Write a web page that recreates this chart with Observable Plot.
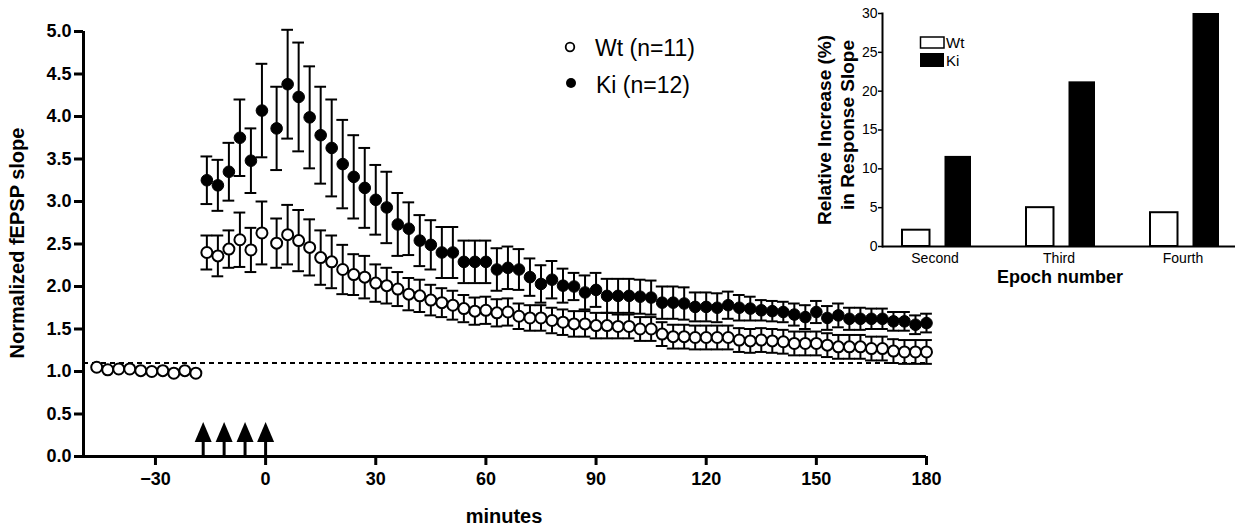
<!DOCTYPE html>
<html>
<head>
<meta charset="utf-8">
<script src="https://cdn.jsdelivr.net/npm/d3@7"></script>
<script src="https://cdn.jsdelivr.net/npm/@observablehq/plot@0.6"></script>
<style>
  html, body { margin: 0; padding: 0; background: #fff; }
  #wrap { position: relative; width: 1246px; height: 531px; overflow: hidden; }
  #wrap > svg { position: absolute; }
</style>
</head>
<body>
<div id="wrap"></div>
<script>
// ---------- data ----------
const baselineTimes = [-46, -43, -40, -37, -34, -31, -28, -25, -22, -19];
const wtBaseline = [1.05, 1.02, 1.03, 1.03, 1.01, 1.00, 1.01, 0.98, 1.01, 0.98];

const postTimes = [-16, -13, -10, -7, -4, -1,
  3, 6, 9, 12, 15, 18, 21, 24, 27, 30,
  33, 36, 39, 42, 45, 48, 51, 54, 57, 60,
  63, 66, 69, 72, 75, 78, 81, 84, 87, 90,
  93, 96, 99, 102, 105, 108, 111, 114, 117, 120,
  123, 126, 129, 132, 135, 138, 141, 144, 147, 150,
  153, 156, 159, 162, 165, 168, 171, 174, 177, 180];

const kiMean = [3.25, 3.19, 3.35, 3.75, 3.48, 4.07,
  3.86, 4.38, 4.23, 3.99, 3.78, 3.63, 3.44, 3.29, 3.16, 3.02,
  2.93, 2.73, 2.68, 2.54, 2.49, 2.40, 2.40, 2.29, 2.29, 2.29,
  2.20, 2.22, 2.20, 2.11, 2.03, 2.08, 2.01, 2.00, 1.93, 1.96,
  1.89, 1.89, 1.89, 1.88, 1.87, 1.81, 1.81, 1.80, 1.76, 1.76,
  1.75, 1.78, 1.75, 1.74, 1.72, 1.71, 1.70, 1.67, 1.64, 1.70,
  1.63, 1.66, 1.62, 1.62, 1.62, 1.62, 1.59, 1.59, 1.55, 1.57];
const kiSem = [0.28, 0.30, 0.34, 0.45, 0.38, 0.55,
  0.49, 0.64, 0.64, 0.60, 0.57, 0.57, 0.52, 0.49, 0.47, 0.41,
  0.42, 0.37, 0.31, 0.30, 0.29, 0.30, 0.30, 0.25, 0.25, 0.25,
  0.25, 0.25, 0.24, 0.22, 0.22, 0.22, 0.20, 0.16, 0.20, 0.20,
  0.20, 0.20, 0.20, 0.20, 0.20, 0.19, 0.19, 0.19, 0.17, 0.17,
  0.17, 0.16, 0.15, 0.14, 0.12, 0.12, 0.12, 0.13, 0.14, 0.13,
  0.14, 0.14, 0.13, 0.13, 0.12, 0.12, 0.11, 0.11, 0.11, 0.11];

const wtMean = [2.40, 2.36, 2.44, 2.55, 2.43, 2.63,
  2.51, 2.61, 2.54, 2.46, 2.34, 2.29, 2.20, 2.14, 2.11, 2.04,
  2.01, 1.97, 1.91, 1.89, 1.84, 1.81, 1.78, 1.74, 1.71, 1.72,
  1.69, 1.70, 1.65, 1.63, 1.63, 1.60, 1.58, 1.56, 1.56, 1.54,
  1.54, 1.53, 1.53, 1.50, 1.50, 1.44, 1.41, 1.41, 1.40, 1.40,
  1.40, 1.40, 1.37, 1.36, 1.37, 1.36, 1.35, 1.33, 1.33, 1.33,
  1.31, 1.29, 1.29, 1.29, 1.27, 1.27, 1.24, 1.23, 1.23, 1.23];
const wtSem = [0.20, 0.24, 0.22, 0.32, 0.26, 0.37,
  0.29, 0.35, 0.36, 0.33, 0.32, 0.31, 0.29, 0.24, 0.25, 0.22,
  0.21, 0.20, 0.19, 0.19, 0.18, 0.17, 0.17, 0.16, 0.16, 0.16,
  0.16, 0.16, 0.15, 0.15, 0.15, 0.15, 0.15, 0.15, 0.15, 0.15,
  0.15, 0.14, 0.14, 0.14, 0.14, 0.14, 0.14, 0.14, 0.14, 0.14,
  0.14, 0.14, 0.14, 0.14, 0.14, 0.14, 0.14, 0.14, 0.14, 0.14,
  0.14, 0.14, 0.14, 0.14, 0.14, 0.14, 0.14, 0.14, 0.14, 0.14];

const arrowTimes = [-17, -11.3, -5.6, 0];
const refLevel = [1.1];
const xTicks = [-30, 0, 30, 60, 90, 120, 150, 180];
const yTicks = [0, 0.5, 1, 1.5, 2, 2.5, 3, 3.5, 4, 4.5, 5];

// inset
const epochs = ["Second", "Third", "Fourth"];
const wtIncrease = [2.1, 5.0, 4.35];
const kiIncrease = [11.6, 21.2, 30.0];
const insetTicks = [0, 5, 10, 15, 20, 25, 30];

// ---------- build tables ----------
const FONT = '"Liberation Sans", Arial, Helvetica, sans-serif';
const base = baselineTimes.map((t, i) => ({t, v: wtBaseline[i]}));
const ki = postTimes.map((t, i) => ({t, v: kiMean[i], e: kiSem[i]}));
const wt = postTimes.map((t, i) => ({t, v: wtMean[i], e: wtSem[i]}));
const arrows = arrowTimes.map(t => ({t}));
const xDomain = [-49.6, 180];
const capHalf = 1.6;

const arrowHead = {
  draw(ctx) {
    ctx.moveTo(0, -20);
    ctx.lineTo(8.5, 0);
    ctx.lineTo(-8.5, 0);
    ctx.closePath();
  }
};

function errMarks(data) {
  return [
    Plot.ruleX(data, {x: "t", y1: d => d.v - d.e, y2: d => d.v + d.e, stroke: "#000", strokeWidth: 2}),
    Plot.ruleY(data, {y: d => d.v + d.e, x1: d => d.t - capHalf, x2: d => d.t + capHalf, stroke: "#000", strokeWidth: 2}),
    Plot.ruleY(data, {y: d => d.v - d.e, x1: d => d.t - capHalf, x2: d => d.t + capHalf, stroke: "#000", strokeWidth: 2})
  ];
}

const main = Plot.plot({
  width: 1246, height: 531,
  marginLeft: 83, marginRight: 320, marginTop: 31, marginBottom: 75,
  x: {domain: xDomain},
  y: {domain: [0, 5]},
  style: {background: "transparent", fontFamily: FONT, color: "#000", overflow: "visible"},
  marks: [
    Plot.ruleY(refLevel, {stroke: "#000", strokeWidth: 2.2, strokeDasharray: "5,4"}),
    Plot.axisY({ticks: yTicks, tickFormat: d3.format(".1f"), tickSize: 9, tickPadding: 3, strokeWidth: 3, fontSize: 18, fontWeight: "bold", label: null}),
    Plot.axisX({ticks: xTicks, tickSize: 9, tickPadding: 7, strokeWidth: 3, fontSize: 18, fontWeight: "bold", label: null}),
    Plot.ruleY([0], {stroke: "#000", strokeWidth: 3}),
    Plot.ruleX([xDomain[0]], {stroke: "#000", strokeWidth: 3}),
    Plot.ruleX(arrows, {x: "t", y1: 0, y2: 0.19, stroke: "#000", strokeWidth: 3}),
    Plot.dot(arrows, {x: "t", y: 0.17, symbol: arrowHead, fill: "#000", stroke: "none"}),
    ...errMarks(ki),
    ...errMarks(wt),
    Plot.dot(ki, {x: "t", y: "v", r: 5.8, fill: "#000", stroke: "#000", strokeWidth: 1}),
    Plot.dot(wt, {x: "t", y: "v", r: 5.5, fill: "#fff", stroke: "#000", strokeWidth: 2}),
    Plot.dot(base, {x: "t", y: "v", r: 5.5, fill: "#fff", stroke: "#000", strokeWidth: 2})
  ]
});
main.style.left = "0px"; main.style.top = "0px";

const bars = epochs.map((g, i) => ({g, wt: wtIncrease[i], ki: kiIncrease[i]}));
const inset = Plot.plot({
  width: 446, height: 300,
  marginLeft: 82, marginRight: 11, marginTop: 13, marginBottom: 54,
  x: {domain: epochs, paddingInner: 0.3, paddingOuter: 0.062},
  y: {domain: [0, 30]},
  style: {background: "transparent", fontFamily: FONT, color: "#000", overflow: "visible"},
  marks: [
    Plot.barY(bars, {x: "g", y: "wt", fill: "#fff", stroke: "#000", strokeWidth: 2, insetLeft: 11, insetRight: 48.5}),
    Plot.barY(bars, {x: "g", y: "ki", fill: "#000", insetLeft: 53.5, insetRight: 7}),
    Plot.axisY({ticks: insetTicks, tickSize: 4, tickPadding: 1, fontSize: 14, label: null, strokeWidth: 1.5}),
    Plot.axisX({tickSize: 0, tickPadding: 7, fontSize: 14, label: null}),
    Plot.ruleY([0], {stroke: "#000", strokeWidth: 2}),
    Plot.frame({anchor: "left", stroke: "#000", strokeWidth: 2})
  ]
});
inset.style.left = "800px"; inset.style.top = "0px";

const wrap = document.getElementById("wrap");
wrap.appendChild(main);
wrap.appendChild(inset);

// ---------- titles and legends ----------
const NS = "http://www.w3.org/2000/svg";
const ov = document.createElementNS(NS, "svg");
ov.setAttribute("width", 1246); ov.setAttribute("height", 531);
ov.style.left = "0px"; ov.style.top = "0px"; ov.style.fontFamily = FONT;
function txt(s, x, y, size, weight, anchor, rot) {
  const t = document.createElementNS(NS, "text");
  t.textContent = s;
  t.setAttribute("font-size", size);
  t.setAttribute("font-weight", weight);
  t.setAttribute("text-anchor", anchor);
  t.setAttribute("fill", "#000");
  if (rot) t.setAttribute("transform", `translate(${x},${y}) rotate(${rot})`);
  else { t.setAttribute("x", x); t.setAttribute("y", y); }
  ov.appendChild(t);
}
function el(tag, attrs) {
  const e = document.createElementNS(NS, tag);
  for (const k in attrs) e.setAttribute(k, attrs[k]);
  ov.appendChild(e);
}
txt("Normalized fEPSP slope", 24, 243, 20, "bold", "middle", -90);
txt("minutes", 504, 523, 20, "bold", "middle");
el("circle", {cx: 570, cy: 47, r: 4.3, fill: "#fff", stroke: "#000", "stroke-width": 1.8});
txt("Wt (n=11)", 595, 56, 23, "normal", "start");
el("circle", {cx: 571, cy: 83, r: 5, fill: "#000"});
txt("Ki (n=12)", 596, 93, 23, "normal", "start");
txt("Relative Increase (%)", 831, 130, 19, "bold", "middle", -90);
txt("in Response Slope", 854, 125, 19, "bold", "middle", -90);
txt("Epoch number", 1060, 283, 18, "bold", "middle");
el("rect", {x: 920.5, y: 37, width: 23.5, height: 11, fill: "#fff", stroke: "#000", "stroke-width": 1.5});
txt("Wt", 946, 48, 15, "normal", "start");
el("rect", {x: 920, y: 53, width: 24, height: 14, fill: "#000"});
txt("Ki", 946, 66, 15, "normal", "start");
wrap.appendChild(ov);
</script>
</body>
</html>
